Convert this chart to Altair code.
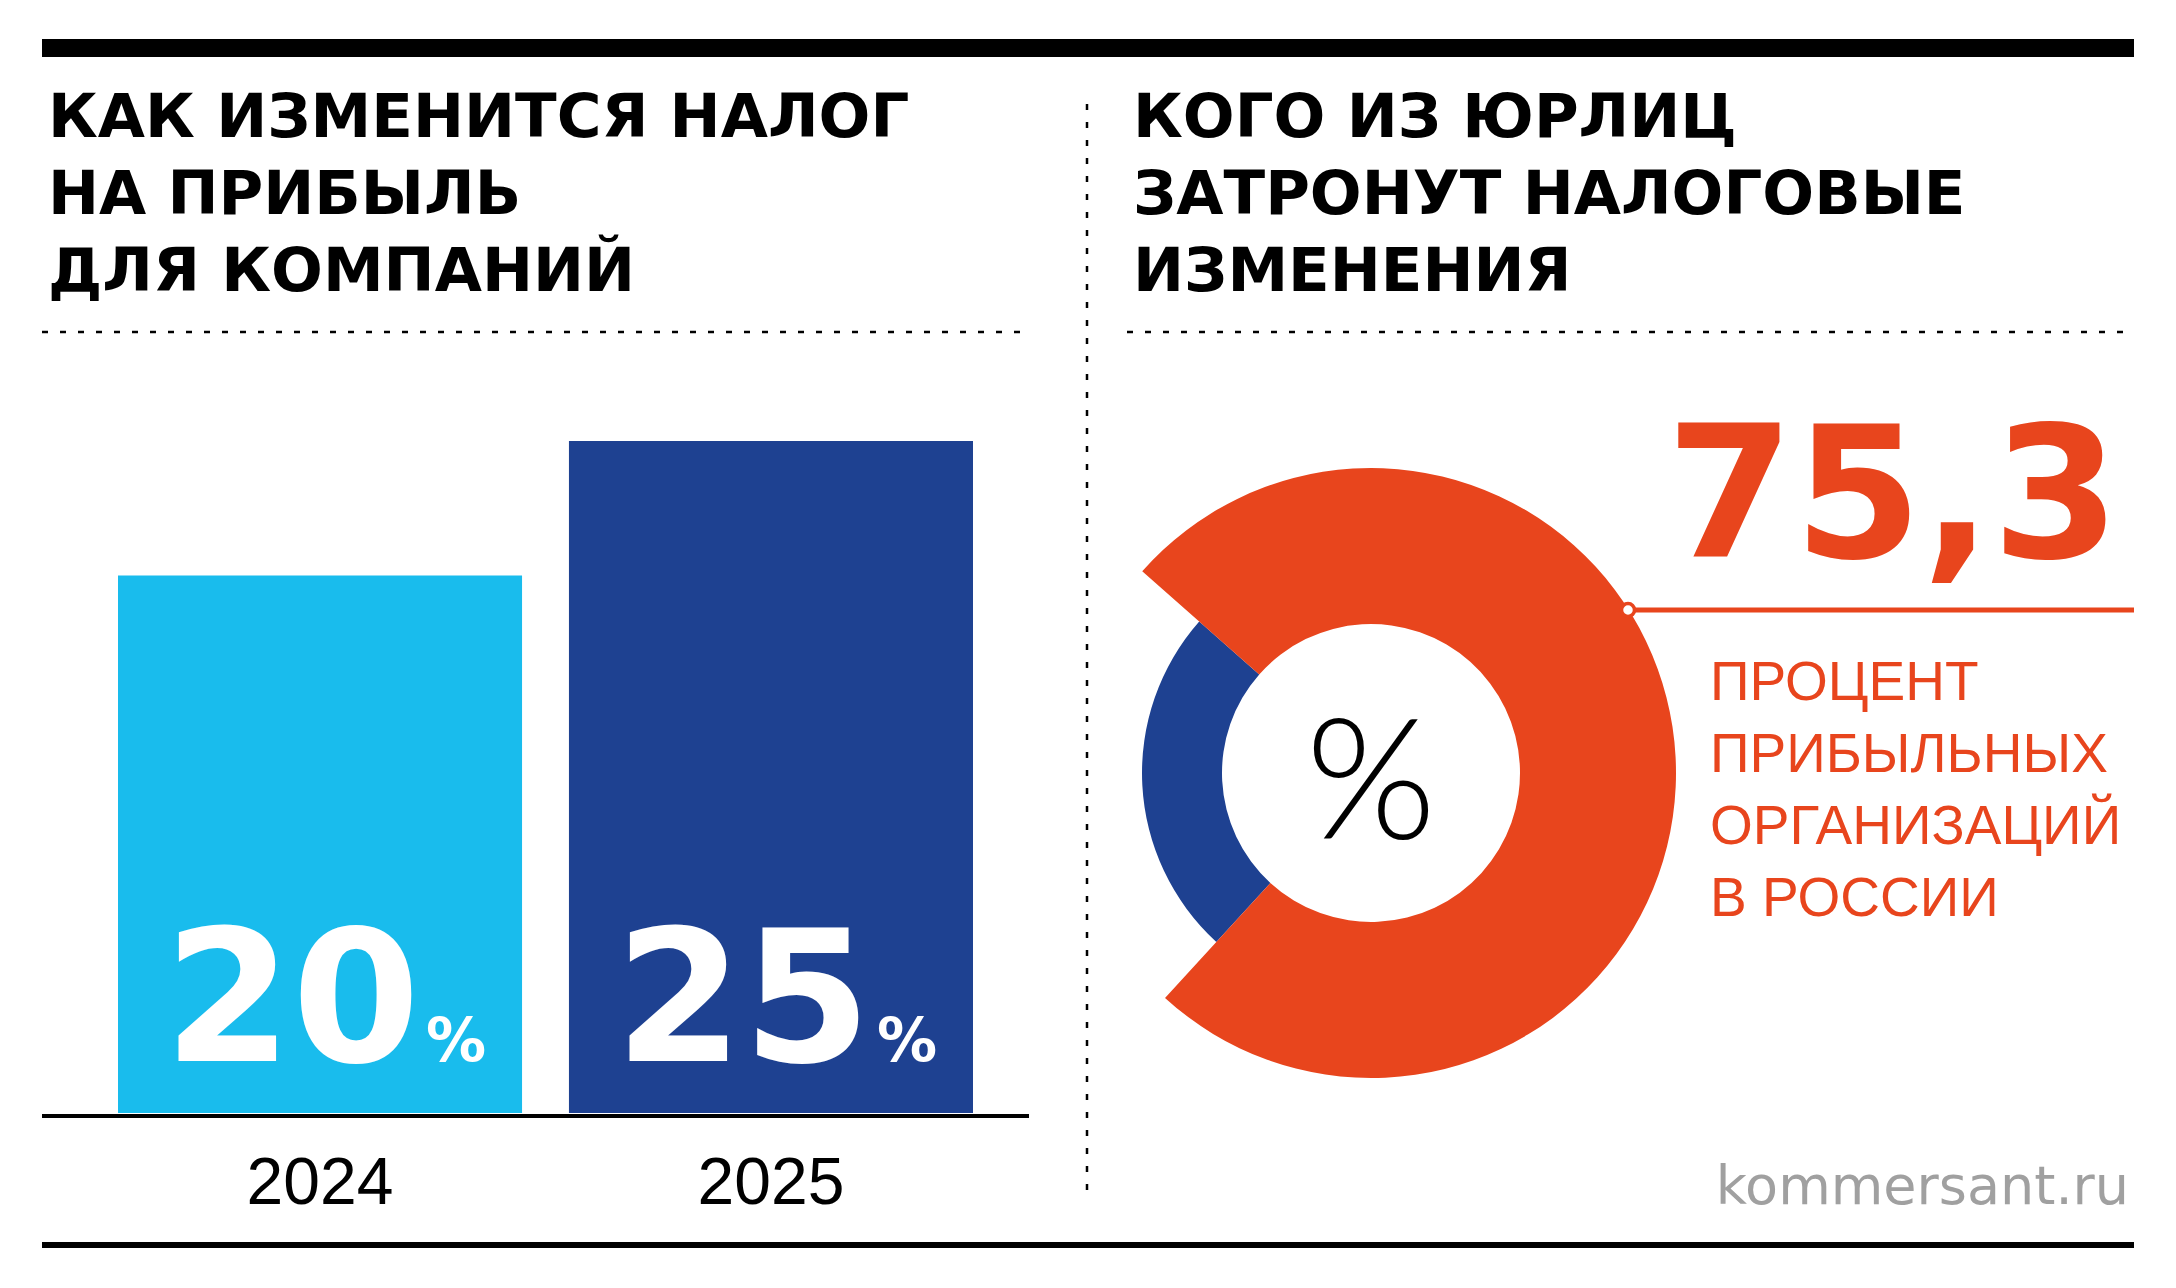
import altair as alt
import pandas as pd

# ---- data ----
years = ["2024", "2025"]
rates = [20, 25]
bar_colors = ["#19BCED", "#1E4191"]

share_groups = ["Прибыльные", "Прочие"]
share_values = [75.3, 24.7]

left_title = ["КАК ИЗМЕНИТСЯ НАЛОГ", "НА ПРИБЫЛЬ", "ДЛЯ КОМПАНИЙ"]
right_title = ["КОГО ИЗ ЮРЛИЦ", "ЗАТРОНУТ НАЛОГОВЫЕ", "ИЗМЕНЕНИЯ"]
note_lines = ["ПРОЦЕНТ", "ПРИБЫЛЬНЫХ", "ОРГАНИЗАЦИЙ", "В РОССИИ"]
source_text = "kommersant.ru"

ORANGE = "#E8451D"
BLUE = "#1E4191"
W, H = 2160, 1272

bars_df = pd.DataFrame({"year": years, "rate": rates})
share_df = pd.DataFrame({"group": share_groups, "share": share_values})
one = pd.DataFrame({"k": [0]})

xs = alt.Scale(domain=years, range=[110, 965], paddingInner=0.104, paddingOuter=0)
ys = alt.Scale(domain=[0, 25], range=[1105, 433], nice=False, zero=True)

X = alt.X("year:N", scale=xs, axis=None)

bars = alt.Chart(bars_df).mark_bar().encode(
    x=X,
    y=alt.Y("rate:Q", scale=ys, axis=None),
    y2=alt.datum(0),
    color=alt.Color("year:N", scale=alt.Scale(domain=years, range=bar_colors), legend=None),
)

baseline = alt.Chart(one).mark_rule(color="black", strokeWidth=4, yOffset=3).encode(
    y=alt.datum(0), x=alt.value(34), x2=alt.value(1021)
)

val_num = alt.Chart(bars_df).mark_text(
    font="DejaVu Sans", fontWeight="bold", fontSize=184, color="white",
    align="right", baseline="alphabetic", dx=100
).encode(x=X, y=alt.value(1053), text=alt.Text("rate:Q"))

val_pct = alt.Chart(bars_df).mark_text(
    font="DejaVu Sans", fontWeight="bold", fontSize=60, color="white",
    align="left", baseline="alphabetic", dx=106
).encode(x=X, y=alt.value(1053), text=alt.value("%"))

year_lbl = alt.Chart(bars_df).mark_text(
    font="Liberation Sans", fontSize=66, color="black",
    align="center", baseline="alphabetic"
).encode(x=X, y=alt.value(1196), text="year:N")

# donut
theta = alt.Theta("share:Q", stack=True,
                  scale=alt.Scale(domain=[0, 100], range=[5.435, 5.435 + 6.2832]))
order = alt.Order("share:Q", sort="descending")

arc_outer = alt.Chart(share_df).mark_arc(radius=305, radius2=149).encode(
    theta=theta, order=order,
    x=alt.value(1363), y=alt.value(765),
    fill=alt.when(alt.datum.group == share_groups[0]).then(alt.value(ORANGE)).otherwise(alt.value("transparent")),
)
arc_inner = alt.Chart(share_df).mark_arc(radius=229, radius2=149).encode(
    theta=theta, order=order,
    x=alt.value(1363), y=alt.value(765),
    fill=alt.when(alt.datum.group == share_groups[1]).then(alt.value(BLUE)).otherwise(alt.value("transparent")),
)

pct_center = alt.Chart(one).mark_text(
    font="Lato", fontWeight=300, fontSize=168, color="black",
    align="center", baseline="alphabetic"
).encode(x=alt.value(1363), y=alt.value(831), text=alt.value("%"))

big_num = alt.Chart(share_df).transform_filter(
    alt.datum.group == share_groups[0]
).transform_calculate(
    lbl="replace(format(datum.share, '.1f'), '.', ',')"
).mark_text(
    font="DejaVu Sans", fontWeight="bold", fontSize=184, color=ORANGE,
    align="right", baseline="alphabetic"
).encode(x=alt.value(2112), y=alt.value(549), text="lbl:N")

lead_line = alt.Chart(one).mark_rule(color=ORANGE, strokeWidth=5).encode(
    x=alt.value(1627), x2=alt.value(2126), y=alt.value(602)
)
lead_dot = alt.Chart(one).mark_point(
    shape="circle", filled=True, fill="white", stroke=ORANGE, strokeWidth=3.5, size=170, opacity=1
).encode(x=alt.value(1620), y=alt.value(602))

note = alt.Chart(one).mark_text(
    font="Liberation Sans", fontSize=55, color=ORANGE,
    align="left", baseline="alphabetic", lineHeight=72
).encode(x=alt.value(1702), y=alt.value(692), text=alt.value(note_lines))

def title_layer(lines, x):
    return alt.Chart(one).mark_text(
        font="DejaVu Sans", fontWeight="bold", fontSize=61, color="black",
        align="left", baseline="alphabetic", lineHeight=77
    ).encode(x=alt.value(x), y=alt.value(129), text=alt.value(lines))

t_left = title_layer(left_title, 40)
t_right = title_layer(right_title, 1125)

source = alt.Chart(one).mark_text(
    font="DejaVu Sans", fontSize=54, color="#A0A0A0",
    align="right", baseline="alphabetic"
).encode(x=alt.value(2121), y=alt.value(1196), text=alt.value(source_text))

top_bar = alt.Chart(one).mark_rule(color="black", strokeWidth=18).encode(
    x=alt.value(34), x2=alt.value(2126), y=alt.value(40)
)
bottom_bar = alt.Chart(one).mark_rule(color="black", strokeWidth=6).encode(
    x=alt.value(34), x2=alt.value(2126), y=alt.value(1237)
)
dots_left = alt.Chart(one).mark_rule(color="black", strokeWidth=2.5, strokeDash=[6, 12]).encode(
    x=alt.value(34), x2=alt.value(1024), y=alt.value(324)
)
dots_right = alt.Chart(one).mark_rule(color="black", strokeWidth=2.5, strokeDash=[6, 12]).encode(
    x=alt.value(1119), x2=alt.value(2125), y=alt.value(324)
)
vdash = alt.Chart(one).mark_rule(color="black", strokeWidth=2.5, strokeDash=[6, 12]).encode(
    x=alt.value(1079), y=alt.value(96), y2=alt.value(1188)
)

chart = alt.layer(
    top_bar, bottom_bar, dots_left, dots_right, vdash,
    bars, baseline, val_num, val_pct, year_lbl,
    arc_inner, arc_outer, pct_center, big_num, lead_line, lead_dot, note,
    t_left, t_right, source,
).resolve_scale(color="independent").properties(
    width=W, height=H, padding=0, autosize=alt.AutoSizeParams(type="none"),
    background="white",
).configure_view(stroke=None)

chart.save("out.html", embed_options={"renderer": "svg", "actions": False})
